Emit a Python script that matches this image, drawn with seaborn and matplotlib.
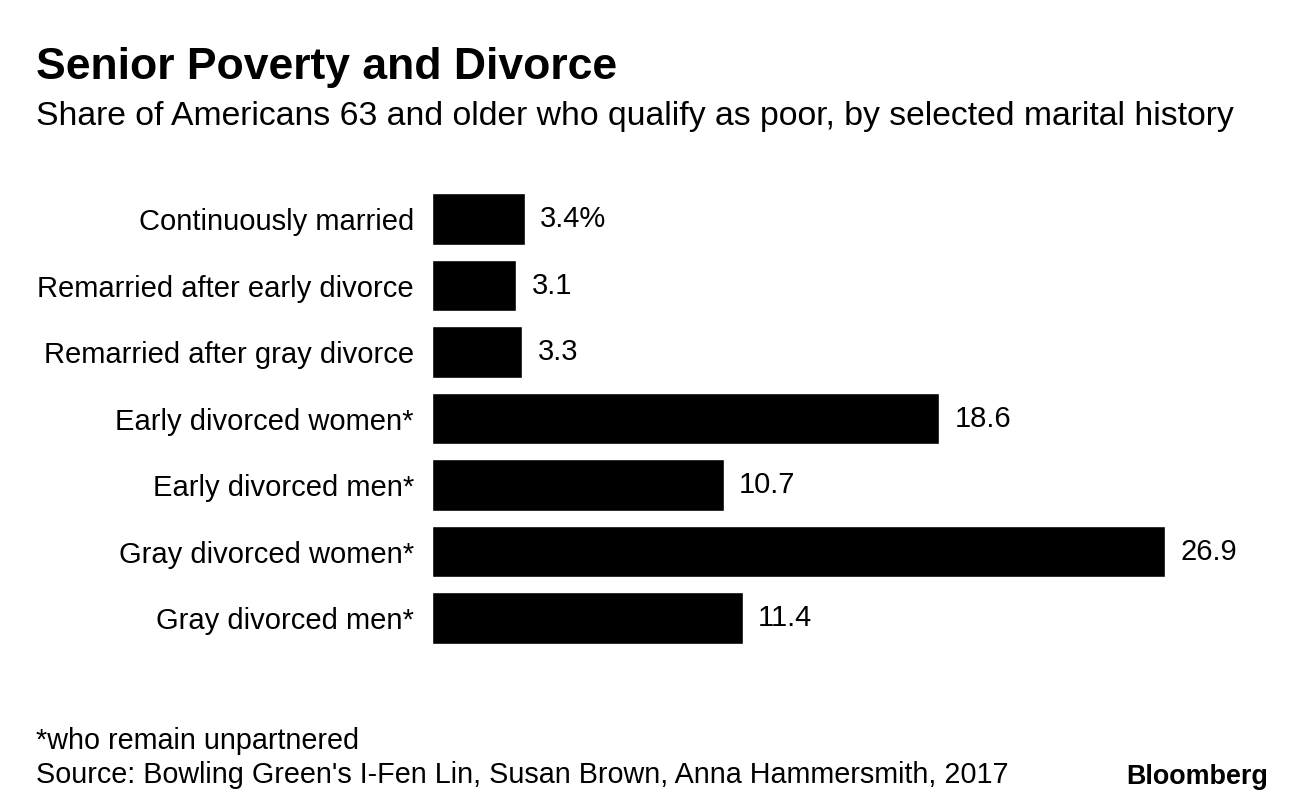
import matplotlib
matplotlib.use("Agg")
import matplotlib.pyplot as plt
import seaborn as sns
import pandas as pd

categories = [
    "Continuously married",
    "Remarried after early divorce",
    "Remarried after gray divorce",
    "Early divorced women*",
    "Early divorced men*",
    "Gray divorced women*",
    "Gray divorced men*",
]
values = [3.4, 3.1, 3.3, 18.6, 10.7, 26.9, 11.4]
value_labels = ["3.4%", "3.1", "3.3", "18.6", "10.7", "26.9", "11.4"]

title = "Senior Poverty and Divorce"
subtitle = "Share of Americans 63 and older who qualify as poor, by selected marital history"
footnote = "*who remain unpartnered"
source = "Source: Bowling Green's I-Fen Lin, Susan Brown, Anna Hammersmith, 2017"

sns.set_style("white")
plt.rcParams["font.family"] = ["Liberation Sans", "DejaVu Sans"]
plt.rcParams["text.color"] = "black"

df = pd.DataFrame({"category": categories, "value": values})

W, H = 1296, 806
fig = plt.figure(figsize=(W / 100, H / 100), dpi=100)
ax = fig.add_axes([432 / W, 1 - 651.25 / H, (30 * 27.25) / W, 465.5 / H])

sns.barplot(data=df, x="value", y="category", order=categories, color="black",
            width=0.78, saturation=1, ax=ax, orient="h")
ax.set_xlim(0, 30)
ax.set_ylim(6.5, -0.5)
ax.set_xlabel("")
ax.set_ylabel("")
ax.set_xticks([])
for s in ax.spines.values():
    s.set_visible(False)
ax.tick_params(axis="y", length=0, pad=13, labelsize=21, labelcolor="black")

for i, (v, lab) in enumerate(zip(values, value_labels)):
    ax.text(v + 0.57, i, lab, va="center", ha="left", fontsize=21, color="black")

fig.text(36 / W, 1 - 68 / H, title, fontsize=32, fontweight="bold", va="center", ha="left", color="black")
fig.text(36 / W, 1 - 116 / H, subtitle, fontsize=24.3, va="center", ha="left", color="black")
fig.text(36 / W, 1 - 741 / H, footnote, fontsize=20.7, va="center", ha="left", color="black")
fig.text(36 / W, 1 - 775 / H, source, fontsize=20.7, va="center", ha="left", color="black")
fig.text(1268 / W, 1 - 777 / H, "Bloomberg", fontsize=19.4, fontweight="bold", va="center", ha="right", color="black")

fig.savefig("out.png", dpi=100)
